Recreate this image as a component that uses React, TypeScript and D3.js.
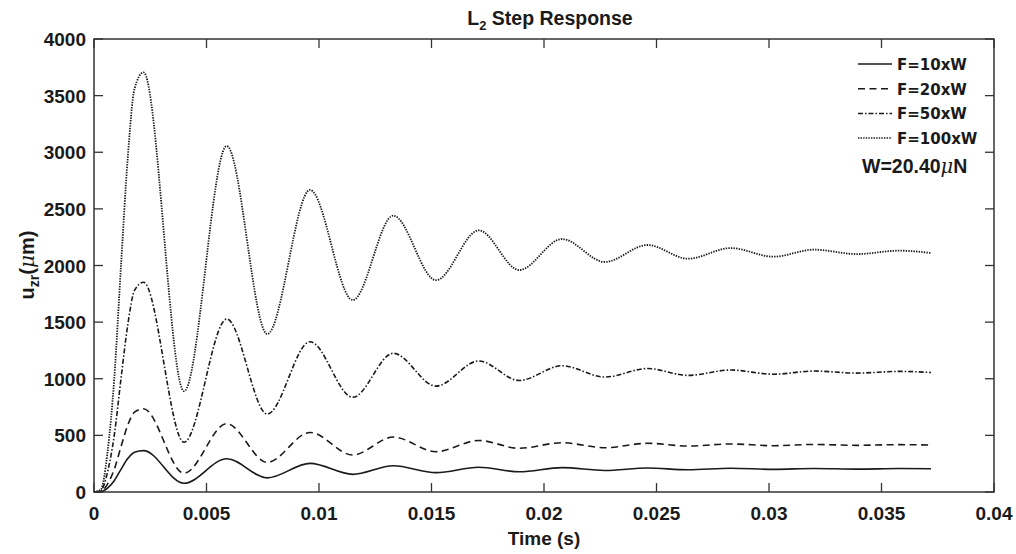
import React from "react";
import * as d3 from "d3";

// ---- data ----
const TIME = [
  0, 0.0003, 0.0006, 0.0009, 0.0012, 0.0015, 0.0018, 0.0022,
  0.004, 0.0059, 0.0077, 0.0096, 0.0115, 0.0133, 0.0152, 0.0171,
  0.0189, 0.0208, 0.0227, 0.0246, 0.0264, 0.0283, 0.0302, 0.032,
  0.0339, 0.0358, 0.0372,
];
const F10 = [
  0, 2, 35, 100, 200, 295, 352, 365,
  77, 293, 125, 253, 156, 232, 171, 218,
  179, 215, 190, 212, 196, 210, 200, 208,
  202, 207, 205,
];
const F20 = [
  0, 5, 70, 200, 400, 590, 705, 735,
  165, 603, 262, 526, 327, 485, 356, 455,
  386, 435, 391, 430, 406, 424, 409, 420,
  412, 418, 415,
];
const F50 = [
  0, 10, 175, 500, 1000, 1475, 1780, 1852,
  439, 1527, 689, 1327, 836, 1225, 935, 1157,
  985, 1115, 1015, 1090, 1030, 1077, 1040, 1068,
  1050, 1065, 1055,
];
const F100 = [
  0, 20, 350, 1000, 2000, 2950, 3560, 3705,
  890, 3055, 1395, 2667, 1695, 2440, 1870, 2310,
  1960, 2234, 2031, 2181, 2060, 2154, 2078, 2140,
  2101, 2131, 2110,
];
const SERIES_NAMES = ["F=10xW", "F=20xW", "F=50xW", "F=100xW"];
const SERIES_VALUES = [F10, F20, F50, F100];
const SERIES_DASH = ["none", "7,4.5", "5,2,1.5,2", "1.4,1.2"];

const X_TICKS = [0, 0.005, 0.01, 0.015, 0.02, 0.025, 0.03, 0.035, 0.04];
const X_TICK_LABELS = ["0", "0.005", "0.01", "0.015", "0.02", "0.025", "0.03", "0.035", "0.04"];
const Y_TICKS = [0, 500, 1000, 1500, 2000, 2500, 3000, 3500, 4000];
const Y_TICK_LABELS = ["0", "500", "1000", "1500", "2000", "2500", "3000", "3500", "4000"];

const W = 1016;
const H = 554;
const M = { left: 94, right: 22, top: 39, bottom: 62 };

export default function App() {
  const x = d3.scaleLinear().domain([0, 0.04]).range([M.left, W - M.right]);
  const y = d3.scaleLinear().domain([0, 4000]).range([H - M.bottom, M.top]);
  const line = d3
    .line<[number, number]>()
    .x((d) => x(d[0]))
    .y((d) => y(d[1]))
    .curve(d3.curveMonotoneX);

  const font = "'Liberation Sans', Arial, Helvetica, sans-serif";
  const ink = "#1a1a1a";
  const axisInk = "#333";
  const tickLen = 9;
  const x0 = M.left, x1 = W - M.right, y0 = H - M.bottom, y1 = M.top;

  return (
    <svg
      width={W}
      height={H}
      style={{ position: "absolute", left: 0, top: 0, background: "#fff" }}
      fontFamily={font}
      fontWeight="bold"
    >
      <rect x={0} y={0} width={W} height={H} fill="#fff" />
      {/* series */}
      {SERIES_VALUES.map((vals, i) => (
        <path
          key={SERIES_NAMES[i]}
          d={line(TIME.map((t, k) => [t, vals[k]]) as [number, number][]) || ""}
          fill="none"
          stroke={ink}
          strokeWidth={i === 3 ? 1.8 : 1.6}
          strokeDasharray={SERIES_DASH[i]}
        />
      ))}
      {/* axes box */}
      <rect x={x0} y={y1} width={x1 - x0} height={y0 - y1} fill="none" stroke={axisInk} strokeWidth={1.5} />
      {X_TICKS.map((t, i) => (
        <g key={"xt" + i}>
          <line x1={x(t)} x2={x(t)} y1={y0} y2={y0 - tickLen} stroke={axisInk} strokeWidth={1.3} />
          <line x1={x(t)} x2={x(t)} y1={y1} y2={y1 + tickLen} stroke={axisInk} strokeWidth={1.3} />
          <text x={x(t)} y={y0 + 28} textAnchor="middle" fontSize={19} fill={ink}>
            {X_TICK_LABELS[i]}
          </text>
        </g>
      ))}
      {Y_TICKS.map((v, i) => (
        <g key={"yt" + i}>
          <line x1={x0} x2={x0 + tickLen} y1={y(v)} y2={y(v)} stroke={axisInk} strokeWidth={1.3} />
          <line x1={x1} x2={x1 - tickLen} y1={y(v)} y2={y(v)} stroke={axisInk} strokeWidth={1.3} />
          <text x={x0 - 8} y={y(v) + 7} textAnchor="end" fontSize={19} fill={ink}>
            {Y_TICK_LABELS[i]}
          </text>
        </g>
      ))}
      {/* title */}
      <text x={550} y={25} textAnchor="middle" fontSize={19.5} fill={ink}>
        L<tspan fontSize={13} dy={5}>2</tspan>
        <tspan dy={-5}> Step Response</tspan>
      </text>
      {/* x label */}
      <text x={544} y={545} textAnchor="middle" fontSize={19} fill={ink}>
        Time (s)
      </text>
      {/* y label */}
      <text transform="translate(34,265) rotate(-90)" textAnchor="middle" fontSize={20} fill={ink}>
        u<tspan fontSize={14} dy={5}>zr</tspan>
        <tspan dy={-5}>(</tspan>
        <tspan fontStyle="italic" fontFamily="'DejaVu Serif', serif" fontWeight="normal">μ</tspan>
        <tspan>m)</tspan>
      </text>
      {/* legend */}
      {SERIES_NAMES.map((name, i) => {
        const ly = 64 + i * 24.7;
        return (
          <g key={"lg" + name}>
            <line x1={858} x2={892} y1={ly} y2={ly} stroke={ink} strokeWidth={1.5} strokeDasharray={SERIES_DASH[i]} />
            <text x={897} y={ly + 6} fontSize={15} fontFamily="'DejaVu Sans', sans-serif" fill={ink}>
              {name}
            </text>
          </g>
        );
      })}
      <text x={862} y={173} fontSize={19.5} fill={ink}>
        W=20.40<tspan fontStyle="italic" fontFamily="'DejaVu Serif', serif" fontWeight="normal">μ</tspan>N
      </text>
    </svg>
  );
}
